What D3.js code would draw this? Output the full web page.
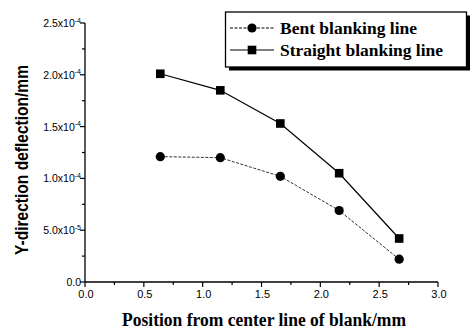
<!DOCTYPE html>
<html>
<head>
<meta charset="utf-8">
<script src="https://cdn.jsdelivr.net/npm/d3@7"></script>
<style>
  body { margin: 0; background: #fff; }
  svg { display: block; }
</style>
</head>
<body>
<div id="chart"></div>
<script>
const w = 472;
const h = 329;

// positions along the blank (mm)
const positions = [0.64, 1.15, 1.66, 2.16, 2.67];
// Y-direction deflection (mm)
const bent = [1.21e-4, 1.20e-4, 1.02e-4, 0.69e-4, 0.22e-4];
const straight = [2.01e-4, 1.85e-4, 1.53e-4, 1.05e-4, 0.42e-4];

const xTicks = [0, 0.5, 1.0, 1.5, 2.0, 2.5, 3.0];
const yTicks = [0, 5e-5, 1e-4, 1.5e-4, 2e-4, 2.5e-4];
const yTickLabels = [["0.0", ""], ["5.0x10", "-5"], ["1.0x10", "-4"], ["1.5x10", "-4"], ["2.0x10", "-4"], ["2.5x10", "-4"]];

const margin = {left: 85, right: 34, top: 23, bottom: 47};

const svg = d3.select("#chart").append("svg")
  .attr("width", w)
  .attr("height", h);

const x = d3.scaleLinear().domain([0, 3]).range([margin.left, w - margin.right]);
const y = d3.scaleLinear().domain([0, 2.5e-4]).range([h - margin.bottom, margin.top]);

const tickFont = "'Liberation Sans', Arial, sans-serif";
const serifFont = "'Liberation Serif', 'Times New Roman', serif";

// x axis
const xAxis = svg.append("g").attr("transform", `translate(0,${y(0)})`);
xAxis.append("line")
  .attr("x1", x(0)).attr("x2", x(3))
  .attr("stroke", "#000").attr("stroke-width", 1.3);
xAxis.selectAll("line.major").data(xTicks).enter().append("line")
  .attr("class", "major")
  .attr("x1", (d) => x(d)).attr("x2", (d) => x(d))
  .attr("y1", 0).attr("y2", 5)
  .attr("stroke", "#000").attr("stroke-width", 1.2);
xAxis.selectAll("line.minor").data(d3.range(0.25, 3, 0.5)).enter().append("line")
  .attr("class", "minor")
  .attr("x1", (d) => x(d)).attr("x2", (d) => x(d))
  .attr("y1", 0).attr("y2", 3)
  .attr("stroke", "#000").attr("stroke-width", 1.2);
xAxis.selectAll("text").data(xTicks).enter().append("text")
  .attr("x", (d) => x(d) + 1)
  .attr("y", 16)
  .attr("text-anchor", "middle")
  .style("font-family", tickFont)
  .style("font-size", "11px")
  .text((d) => d.toFixed(1));

// y axis
const yAxis = svg.append("g").attr("transform", `translate(${x(0)},0)`);
yAxis.append("line")
  .attr("y1", y(0)).attr("y2", y(2.5e-4))
  .attr("stroke", "#000").attr("stroke-width", 1.3);
yAxis.selectAll("line.major").data(yTicks).enter().append("line")
  .attr("class", "major")
  .attr("y1", (d) => y(d)).attr("y2", (d) => y(d))
  .attr("x1", 0).attr("x2", -5)
  .attr("stroke", "#000").attr("stroke-width", 1.2);
yAxis.selectAll("line.minor").data(d3.range(2.5e-5, 2.5e-4, 5e-5)).enter().append("line")
  .attr("class", "minor")
  .attr("y1", (d) => y(d)).attr("y2", (d) => y(d))
  .attr("x1", 0).attr("x2", -3)
  .attr("stroke", "#000").attr("stroke-width", 1.2);
const yLabels = yAxis.selectAll("text").data(yTicks).enter().append("text")
  .attr("x", -4)
  .attr("y", (d) => y(d) + 4)
  .attr("text-anchor", "end")
  .style("font-family", tickFont)
  .style("font-size", "10.5px");
yLabels.append("tspan").text((d, i) => yTickLabels[i][0]);
yLabels.append("tspan")
  .attr("dy", -4.5)
  .style("font-size", "7px")
  .text((d, i) => yTickLabels[i][1]);

// axis titles
svg.append("text")
  .attr("transform", "translate(28,160) rotate(-90)")
  .attr("text-anchor", "middle")
  .attr("textLength", 190)
  .attr("lengthAdjust", "spacingAndGlyphs")
  .style("font-family", "'Liberation Sans Narrow', 'Arial Narrow', sans-serif")
  .style("font-weight", "bold")
  .style("font-size", "18.5px")
  .text("Y-direction deflection/mm");

svg.append("text")
  .attr("x", 264)
  .attr("y", 326)
  .attr("text-anchor", "middle")
  .attr("textLength", 284)
  .attr("lengthAdjust", "spacingAndGlyphs")
  .style("font-family", serifFont)
  .style("font-weight", "bold")
  .style("font-size", "18px")
  .text("Position from center line of blank/mm");

// series
const line = d3.line().x((d) => x(d[0])).y((d) => y(d[1]));
const bentPts = positions.map((p, i) => [p, bent[i]]);
const straightPts = positions.map((p, i) => [p, straight[i]]);

svg.append("path")
  .datum(bentPts)
  .attr("d", line)
  .attr("fill", "none")
  .attr("stroke", "#333")
  .attr("stroke-width", 1)
  .attr("stroke-dasharray", "3,1.5");

svg.append("path")
  .datum(straightPts)
  .attr("d", line)
  .attr("fill", "none")
  .attr("stroke", "#000")
  .attr("stroke-width", 1.2);

svg.append("g").selectAll("circle").data(bentPts).enter().append("circle")
  .attr("cx", (d) => x(d[0]))
  .attr("cy", (d) => y(d[1]))
  .attr("r", 4.6)
  .attr("fill", "#000");

svg.append("g").selectAll("rect").data(straightPts).enter().append("rect")
  .attr("x", (d) => x(d[0]) - 4.3)
  .attr("y", (d) => y(d[1]) - 4.3)
  .attr("width", 8.6)
  .attr("height", 8.6)
  .attr("fill", "#000");

// legend
const legend = svg.append("g");
legend.append("rect")
  .attr("x", 229).attr("y", 15.5)
  .attr("width", 241).attr("height", 55)
  .attr("fill", "#000");
legend.append("rect")
  .attr("x", 225.5).attr("y", 12)
  .attr("width", 241).attr("height", 55)
  .attr("fill", "#fff")
  .attr("stroke", "#000")
  .attr("stroke-width", 1.3);

const legendItems = [
  {label: "Bent blanking line", marker: "circle", dash: "3,1.5", y: 28, len: 137},
  {label: "Straight blanking line", marker: "square", dash: null, y: 50, len: 163}
];
legendItems.forEach((d) => {
  legend.append("line")
    .attr("x1", 230).attr("x2", 274)
    .attr("y1", d.y).attr("y2", d.y)
    .attr("stroke", "#000")
    .attr("stroke-width", 1.1)
    .attr("stroke-dasharray", d.dash);
  if (d.marker === "circle") {
    legend.append("circle").attr("cx", 252).attr("cy", d.y).attr("r", 4.6).attr("fill", "#000");
  } else {
    legend.append("rect").attr("x", 247.7).attr("y", d.y - 4.3).attr("width", 8.6).attr("height", 8.6).attr("fill", "#000");
  }
  legend.append("text")
    .attr("x", 280)
    .attr("y", d.y + 6)
    .attr("textLength", d.len)
    .attr("lengthAdjust", "spacingAndGlyphs")
    .style("font-family", serifFont)
    .style("font-weight", "bold")
    .style("font-size", "17px")
    .text(d.label);
});
</script>
</body>
</html>
